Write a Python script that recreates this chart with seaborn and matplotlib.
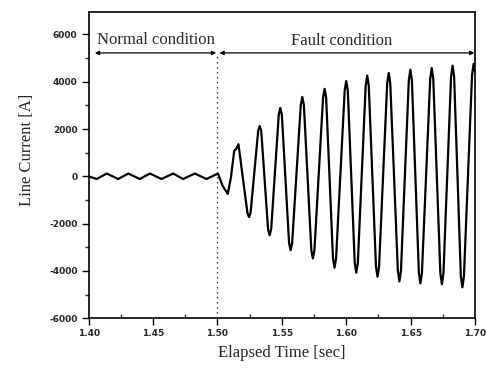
import matplotlib
matplotlib.use("Agg")
import matplotlib.pyplot as plt
import seaborn as sns
import pandas as pd

# ---- data ----
normal_t = [1.4000, 1.4062, 1.4140, 1.4229, 1.4307, 1.4397, 1.4475, 1.4565,
            1.4656, 1.4733, 1.4824, 1.4915, 1.5004]
normal_i = [0, -110, 120, -110, 120, -110, 120, -110,
            120, -110, 120, -110, 120]

fault_t = [1.5040, 1.5080, 1.5105, 1.5130, 1.5145, 1.5163, 1.5195,
           1.5233, 1.5245, 1.5257,
           1.5316, 1.5328, 1.5340,
           1.5393, 1.5405, 1.5417,
           1.5476, 1.5488, 1.5500,
           1.5556, 1.5568, 1.5580,
           1.5647, 1.5659, 1.5671,
           1.5729, 1.5741, 1.5753,
           1.5820, 1.5832, 1.5844,
           1.5897, 1.5909, 1.5921,
           1.5988, 1.6000, 1.6012,
           1.6066, 1.6078, 1.6090,
           1.6151, 1.6163, 1.6175,
           1.6231, 1.6243, 1.6255,
           1.6318, 1.6330, 1.6342,
           1.6401, 1.6413, 1.6425,
           1.6486, 1.6498, 1.6510,
           1.6564, 1.6576, 1.6588,
           1.6652, 1.6664, 1.6676,
           1.6731, 1.6743, 1.6755,
           1.6814, 1.6826, 1.6838,
           1.6890, 1.6902, 1.6914,
           1.6977, 1.6989, 1.7000]
fault_i = [-400, -740, -30, 1080, 1150, 1360, 30,
           -1550, -1720, -1550,
           1920, 2130, 1920,
           -2240, -2490, -2240,
           2610, 2900, 2610,
           -2810, -3120, -2810,
           3020, 3360, 3020,
           -3120, -3470, -3120,
           3330, 3700, 3330,
           -3470, -3860, -3470,
           3630, 4030, 3630,
           -3660, -4070, -3660,
           3830, 4260, 3830,
           -3820, -4240, -3820,
           3930, 4370, 3930,
           -4000, -4440, -4000,
           4060, 4510, 4060,
           -4070, -4525, -4070,
           4120, 4580, 4120,
           -4100, -4560, -4100,
           4210, 4680, 4210,
           -4220, -4690, -4220,
           4280, 4760, 4450]

x_ticks = [1.40, 1.45, 1.50, 1.55, 1.60, 1.65, 1.70]
x_tick_labels = ["1.40", "1.45", "1.50", "1.55", "1.60", "1.65", "1.70"]
y_ticks = [-6000, -4000, -2000, 0, 2000, 4000, 6000]
y_tick_labels = ["-6000", "-4000", "-2000", "0", "2000", "4000", "6000"]

fault_start = 1.50
arrow_level = 5220

df = pd.DataFrame({"t": normal_t + fault_t, "i": normal_i + fault_i})

# ---- drawing ----
sns.set_style("ticks")
plt.rcParams["axes.unicode_minus"] = False
plt.rcParams["font.family"] = ["DejaVu Sans"]

fig = plt.figure(figsize=(4.86, 3.69), dpi=100)
ax = fig.add_axes([88.7 / 486, (369 - 318.3) / 369, 386.3 / 486, 306.3 / 369])

sns.lineplot(data=df, x="t", y="i", sort=False, estimator=None,
             color="black", linewidth=1.6, ax=ax)
for ln in ax.get_lines():
    ln.set_solid_joinstyle("round")

ax.set_xlim(1.40, 1.70)
ax.set_ylim(-6000, 6950)

ax.set_xticks(x_ticks)
ax.set_xticklabels(x_tick_labels)
ax.set_yticks(y_ticks)
ax.set_yticklabels(y_tick_labels)
ax.set_xticks([1.425, 1.475, 1.525, 1.575, 1.625, 1.675], minor=True)
ax.set_yticks([-5000, -3000, -1000, 1000, 3000, 5000], minor=True)

for lab in ax.get_xticklabels() + ax.get_yticklabels():
    lab.set_fontsize(6.5)
    lab.set_fontweight("bold")
ax.tick_params(axis="both", which="major", direction="out", length=5,
               width=1.0, color="black", pad=3)
ax.tick_params(axis="x", which="minor", direction="in", length=3, width=1.0)
ax.tick_params(axis="y", which="minor", direction="out", length=3, width=1.0)

for s in ax.spines.values():
    s.set_visible(True)
    s.set_color("black")
    s.set_linewidth(1.2)

serif = ["Liberation Serif", "DejaVu Serif"]
ax.set_xlabel("Elapsed Time [sec]", fontsize=12, family=serif, labelpad=5)
ax.set_ylabel("Line Current [A]", fontsize=12, family=serif)
ax.yaxis.set_label_coords(-0.14, 0.55)

# dotted boundary line
ax.plot([fault_start, fault_start], [-6000, arrow_level], color="black",
        linewidth=0.9, linestyle=(0, (1, 3)))

# condition arrows
aprops = dict(arrowstyle="<|-|>", color="black", lw=0.9,
              mutation_scale=6, shrinkA=0, shrinkB=0)
ax.annotate("", xy=(1.4048, arrow_level), xytext=(1.4990, arrow_level),
            arrowprops=aprops)
ax.annotate("", xy=(1.5015, arrow_level), xytext=(1.6995, arrow_level),
            arrowprops=aprops)

ax.text(1.4523, 5770, "Normal condition", fontsize=12, family=serif,
        ha="center", va="center")
ax.text(1.5967, 5730, "Fault condition", fontsize=12, family=serif,
        ha="center", va="center")

fig.savefig("out.png", dpi=100)
